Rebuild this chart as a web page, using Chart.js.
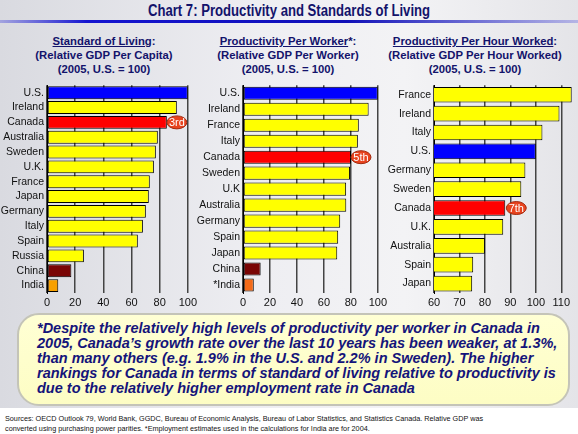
<!DOCTYPE html>
<html>
<head>
<meta charset="utf-8">
<script src="https://cdn.jsdelivr.net/npm/chart.js@4"></script>
<style>
  html, body { margin: 0; padding: 0; }
  body {
    width: 578px; height: 434px; position: relative; overflow: hidden;
    background: linear-gradient(to right, #d9dae0 0%, #eeeef2 45%, #f3f3f5 70%, #e4e4e8 100%);
    font-family: "Liberation Sans", Arial, sans-serif;
  }
  .title {
    position: absolute; left: 0; top: 2px; width: 578px; text-align: center;
    font-weight: bold; font-size: 16px; color: #13136b; white-space: nowrap;
  }
  .title span { display: inline-block; transform: scaleX(0.82); }
  .rule {
    position: absolute; left: 0; top: 20px; width: 578px; height: 3px;
    background: linear-gradient(to right, rgba(40,40,220,0.3), #1515d0 15%, #1010b8 60%, rgba(40,40,220,0.25));
  }
  .sub {
    position: absolute; top: 34px; width: 200px; text-align: center;
    font-weight: bold; font-size: 11.3px; line-height: 14px; color: #13136b; white-space: nowrap;
  }
  .sub u { text-decoration: underline; }
  canvas { position: absolute; }
  .note {
    position: absolute; left: 17px; top: 313px; width: 549px; height: 89px;
    border: 2px solid #c4c4b8; border-radius: 22px;
    background: linear-gradient(to bottom, #ffffd4, #fdfdc4);
  }
  .note div {
    position: absolute; left: 18px; top: 6px; white-space: nowrap;
    font-weight: bold; font-style: italic; font-size: 14.5px; line-height: 15px; color: #14147a;
  }
  .foot {
    position: absolute; left: 0; top: 408px; width: 578px; height: 26px; background: #fff;
  }
  .foot div {
    position: absolute; left: 5px; top: 6px; white-space: nowrap;
    font-size: 7.25px; line-height: 10px; color: #111;
  }
</style>
</head>
<body>
<div class="title"><span>Chart 7: Productivity and Standards of Living</span></div>
<div class="rule"></div>

<div class="sub" style="left:4px"><u>Standard of Living</u>:<br>(Relative GDP Per Capita)<br>(2005, U.S. = 100)</div>
<div class="sub" style="left:188px"><u>Productivity Per Worker</u>*:<br>(Relative GDP Per Worker)<br>(2005, U.S. = 100)</div>
<div class="sub" style="left:375px"><u>Productivity Per Hour Worked</u>:<br>(Relative GDP Per Hour Worked)<br>(2005, U.S. = 100)</div>

<canvas id="living" style="left:0px;top:76px" width="200" height="233"></canvas>
<canvas id="worker" style="left:190px;top:76px" width="200" height="233"></canvas>
<canvas id="hour" style="left:385px;top:76px" width="193" height="233"></canvas>

<div class="note"><div>*Despite the relatively high levels of productivity per worker in Canada in<br>2005, Canada’s growth rate over the last 10 years has been weaker, at 1.3%,<br>than many others (e.g. 1.9% in the U.S. and 2.2% in Sweden). The higher<br>rankings for Canada in terms of standard of living relative to productivity is<br>due to the relatively higher employment rate in Canada</div></div>

<div class="foot"><div>Sources: OECD Outlook 79, World Bank, GGDC, Bureau of Economic Analysis, Bureau of Labor Statistics, and Statistics Canada. Relative GDP was<br>converted using purchasing power parities. *Employment estimates used in the calculations for India are for 2004.</div></div>

<script>
// Standard of living (GDP per capita, U.S. = 100)
const livingCountries = ["U.S.", "Ireland", "Canada", "Australia", "Sweden", "U.K.", "France", "Japan", "Germany", "Italy", "Spain", "Russia", "China", "India"];
const livingValues = [100, 92.2, 85.1, 78.7, 77.3, 75.9, 73.0, 72.3, 70.2, 68.1, 64.5, 26.2, 17.3, 8.0];
const livingTicks = [0, 20, 40, 60, 80, 100];

// Productivity per worker
const workerCountries = ["U.S.", "Ireland", "France", "Italy", "Canada", "Sweden", "U.K", "Australia", "Germany", "Spain", "Japan", "China", "*India"];
const workerValues = [100, 93.2, 85.9, 85.2, 80.1, 79.4, 76.5, 76.6, 72.1, 70.6, 69.9, 13.1, 8.0];

// Productivity per hour worked
const hourCountries = ["France", "Ireland", "Italy", "U.S.", "Germany", "Sweden", "Canada", "U.K.", "Australia", "Spain", "Japan"];
const hourValues = [114.1, 109.3, 102.6, 100, 95.9, 94.3, 88.0, 87.2, 80.0, 75.4, 75.0];
const hourTicks = [60, 70, 80, 90, 100, 110];

Chart.defaults.font.family = '"Liberation Sans", Arial, sans-serif';
Chart.defaults.font.size = 11;
Chart.defaults.color = "#000";

function barColor(name) {
  if (name === "U.S.") return "#0000ff";
  if (name === "Canada") return "#ff0000";
  if (name === "China") return "#7a0505";
  if (name === "India") return "#f7a000";
  if (name === "*India") return "#f46a18";
  return "#ffff00";
}

// little red "rank" badge at the end of Canada's bar
const badgePlugin = {
  id: "badge",
  afterDatasetsDraw(chart, args, opts) {
    const i = chart.data.labels.indexOf("Canada");
    const bar = chart.getDatasetMeta(0).data[i];
    if (!bar) return;
    const ctx = chart.ctx;
    const cx = bar.x + opts.offset, cy = bar.y;
    ctx.save();
    ctx.beginPath();
    ctx.ellipse(cx, cy, 10, 6.5, 0, 0, Math.PI * 2);
    ctx.fillStyle = "#e8431e";
    ctx.fill();
    ctx.strokeStyle = "#a02a10";
    ctx.lineWidth = 1;
    ctx.stroke();
    ctx.fillStyle = "#fff";
    ctx.font = '11px "Liberation Sans", Arial, sans-serif';
    ctx.textAlign = "center";
    ctx.textBaseline = "middle";
    ctx.fillText(opts.text, cx, cy + 0.5);
    ctx.restore();
  }
};

function makeChart(id, labels, values, o) {
  const ctx = document.getElementById(id).getContext("2d");
  return new Chart(ctx, {
    type: "bar",
    data: {
      labels: labels,
      datasets: [{
        data: values,
        backgroundColor: labels.map(l => barColor(l)),
        borderColor: "#000",
        borderWidth: 1,
        borderSkipped: false,
        barPercentage: o.barPct,
        categoryPercentage: 1
      }]
    },
    options: {
      indexAxis: "y",
      responsive: false,
      animation: false,
      layout: { padding: { top: 4, right: o.padRight, left: 0, bottom: 0 } },
      plugins: {
        legend: { display: false },
        tooltip: { enabled: false },
        badge: { text: o.badge, offset: o.badgeOffset }
      },
      scales: {
        x: {
          min: o.min,
          max: o.max,
          afterBuildTicks: axis => { axis.ticks = o.ticks.map(v => ({ value: v })); },
          afterFit: s => { s.height = 16; },
          grid: { color: "#444", lineWidth: 1.5, drawTicks: false },
          border: { display: false },
          ticks: { padding: 3, font: { size: 11 }, color: "#111" }
        },
        y: {
          afterFit: s => { s.width = o.yWidth; },
          grid: { display: false, drawTicks: false },
          border: { display: true, color: "#000", width: 1 },
          ticks: { padding: 3, autoSkip: false, font: { size: 10.5 }, color: "#111" }
        }
      }
    },
    plugins: [badgePlugin]
  });
}

makeChart("living", livingCountries, livingValues,
  { min: 0, max: 100, ticks: livingTicks, yWidth: 47, padRight: 12, barPct: 0.87, badge: "3rd", badgeOffset: 10 });
makeChart("worker", workerCountries, workerValues,
  { min: 0, max: 100, ticks: livingTicks, yWidth: 53, padRight: 9, barPct: 0.82, badge: "5th", badgeOffset: 10 });
makeChart("hour", hourCountries, hourValues,
  { min: 60, max: 115, ticks: hourTicks, yWidth: 49, padRight: 4, barPct: 0.83, badge: "7th", badgeOffset: 11 });
</script>
</body>
</html>
